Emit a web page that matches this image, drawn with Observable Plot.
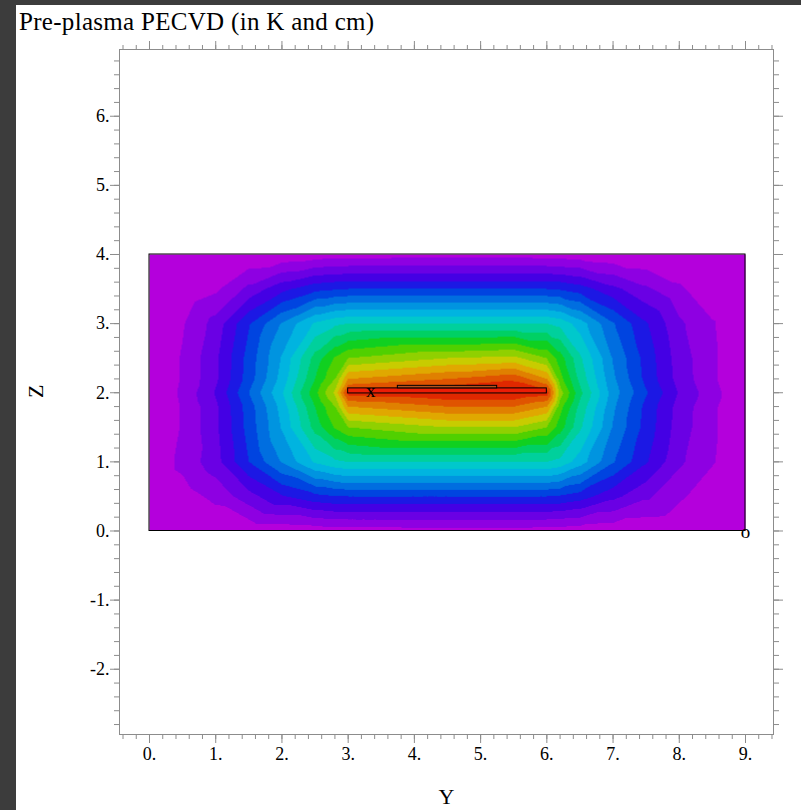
<!DOCTYPE html>
<html><head><meta charset="utf-8">
<script src="https://cdn.jsdelivr.net/npm/d3@7"></script>
<script src="https://cdn.jsdelivr.net/npm/@observablehq/plot@0.6"></script>
<style>
html,body{margin:0;padding:0;background:#3c3c3c;width:801px;height:810px;overflow:hidden}
#panel{position:absolute;left:16px;top:5px;width:785px;height:805px;background:#fff}
#title{position:absolute;left:3px;top:4px;font-family:"Liberation Serif",serif;font-size:25px;line-height:25px;letter-spacing:0.3px;color:#000;white-space:nowrap}
#chart{position:absolute;left:0;top:35px}
</style></head>
<body><div id="panel"><div id="title">Pre-plasma PECVD (in K and cm)</div><div id="chart"></div></div>
<script>
// Sample positions (Y and Z, cm) of the temperature field
const gridY = [0, 0.5, 1, 1.5, 2, 2.5, 2.8, 3, 4.5, 5.5, 6, 6.2, 6.5, 7, 7.5, 8, 8.5, 9];
const gridZ = [0, 0.5, 1, 1.5, 1.8, 2, 2.2, 2.5, 3, 3.5, 4];
// Contour level (band index) read at each sample, one row per gridZ value
const levelRows = [
  [0, 0, 0.1, 0.2, 0.3, 0.4, 0.5, 0.5, 0.6, 0.6, 0.5, 0.5, 0.4, 0.3, 0.2, 0.1, 0, 0],
  [0, 0.5, 1.3, 2.6, 3.9, 4.7, 4.95, 5, 5, 5, 5, 4.9, 4.5, 3.3, 2.2, 1.2, 0.3, 0],
  [0, 1.3, 2.6, 5.0, 7.1, 9.15, 9.8, 10, 10, 10, 10, 9.7, 8.5, 6.1, 4.1, 2.2, 1.1, 0],
  [0, 1.1, 2.8, 5.4, 8.1, 11.4, 13.1, 14.0, 15, 15, 14.0, 12.5, 10.2, 6.9, 4.6, 2.5, 1.2, 0],
  [0, 1.1, 2.8, 5.5, 8.4, 12.0, 14.0, 17, 18, 18, 17, 13.4, 10.7, 7.2, 4.7, 2.6, 1.2, 0],
  [0, 1.2, 3.1, 6.0, 8.9, 12.7, 15.2, 19.5, 20, 20, 19.5, 14.5, 11.3, 7.5, 5.1, 2.9, 1.4, 0],
  [0, 1.1, 2.8, 5.5, 8.4, 12.0, 14.0, 17, 18, 18.8, 17, 13.4, 10.7, 7.2, 4.7, 2.6, 1.2, 0],
  [0, 1.1, 2.8, 5.4, 8.1, 11.4, 13.1, 14.0, 15, 15.3, 14.0, 12.5, 10.2, 6.9, 4.6, 2.5, 1.2, 0],
  [0, 0.9, 2.4, 4.9, 7.1, 9.15, 9.8, 10, 10, 10, 10, 9.7, 8.5, 6.1, 4.1, 2.2, 1.1, 0],
  [0, 0.2, 0.8, 2.3, 3.7, 4.7, 4.9, 5, 5, 5, 5, 4.9, 4.5, 3.3, 2.2, 1.2, 0.2, 0],
  [0, 0, 0, 0.1, 0.2, 0.4, 0.5, 0.5, 0.6, 0.6, 0.5, 0.5, 0.4, 0.2, 0.1, 0, 0, 0]
];
const bandEdges = [1, 2, 3, 4, 5, 6, 7, 8, 9, 10, 11, 12, 13, 14, 15, 16, 17, 18, 19];
const bandColors = ["#b400dc", "#8e00e2", "#6a00e4", "#4400e4", "#1c18e4", "#0044e0", "#006ee0", "#0094e0",
  "#00b4e0", "#00c8cc", "#00d09c", "#00d064", "#10d020", "#50d000", "#90d000", "#c8cc00",
  "#e0a800", "#e08000", "#e05400", "#e02800"];
// Geometry
const domainBox = [{y1: 0, y2: 9, z1: 0, z2: 4}];
const plateY = [3, 6];
const plateZ = [1.99, 2.063];
const padY = [3.75, 5.25];
const padZ = [2.063, 2.10];
const markerLabels = ["x", "o"];
const markerY = [3.34, 9.0];
const markerZ = [2.02, -0.02];
const xMajor = [0, 1, 2, 3, 4, 5, 6, 7, 8, 9];
const zMajor = [-2, -1, 0, 1, 2, 3, 4, 5, 6];

const points = gridZ.flatMap((z, i) => gridY.map((y, j) => ({y, z, v: levelRows[i][j]})));
const plate = [{y1: plateY[0], y2: plateY[1], z1: plateZ[0], z2: plateZ[1]}];
const pad = [{y1: padY[0], y2: padY[1], z1: padZ[0], z2: padZ[1]}];
const markers = markerLabels.map((t, i) => ({t, y: markerY[i], z: markerZ[i]}));
const minorX = d3.range(-4, 95, 2).map(d => d / 10);
const minorZ = d3.range(-28, 69, 2).map(d => d / 10);

const gray = "#8c8c8c";
const fmt = d => `${d}.`;
const chart = Plot.plot({
  width: 785, height: 770,
  marginLeft: 103, marginRight: 28, marginTop: 9, marginBottom: 76,
  style: {fontFamily: '"Liberation Serif", serif', fontSize: "18px", color: "#000", background: "transparent", overflow: "visible"},
  x: {domain: [-0.453, 9.4228]},
  y: {domain: [-2.944, 6.9656]},
  color: {type: "threshold", domain: bandEdges, range: bandColors},
  marks: [
    Plot.raster(points, {x: "y", y: "z", fill: "v", interpolate: "barycentric", x1: 0, x2: 9, y1: 0, y2: 4, pixelSize: 1}),
    Plot.rect(domainBox, {x1: "y1", x2: "y2", y1: "z1", y2: "z2", stroke: "#000", strokeWidth: 1, fill: "none"}),
    Plot.rect(plate, {x1: "y1", x2: "y2", y1: "z1", y2: "z2", fill: "#ec1c06", stroke: "#000", strokeWidth: 1}),
    Plot.rect(pad, {x1: "y1", x2: "y2", y1: "z1", y2: "z2", fill: "#b4501e", stroke: "#000", strokeWidth: 1}),
    Plot.text(markers, {x: "y", y: "z", text: "t", fontSize: 19, fill: "#000"}),
    Plot.frame({stroke: gray}),
    Plot.axisX(minorX, {anchor: "bottom", tickSize: 5, tickFormat: () => "", stroke: gray, label: null}),
    Plot.axisX(minorX, {anchor: "top", tickSize: 5, tickFormat: () => "", stroke: gray, label: null}),
    Plot.axisY(minorZ, {anchor: "left", tickSize: 5, tickFormat: () => "", stroke: gray, label: null}),
    Plot.axisY(minorZ, {anchor: "right", tickSize: 5, tickFormat: () => "", stroke: gray, label: null}),
    Plot.axisX(xMajor, {anchor: "bottom", tickSize: 9, tickPadding: 4, tickFormat: fmt, stroke: gray, label: null, fontSize: 18}),
    Plot.axisX(xMajor, {anchor: "top", tickSize: 9, tickFormat: () => "", stroke: gray, label: null}),
    Plot.axisY(zMajor, {anchor: "left", tickSize: 9, tickPadding: 1, tickFormat: fmt, stroke: gray, label: null, fontSize: 18}),
    Plot.axisY(zMajor, {anchor: "right", tickSize: 9, tickFormat: () => "", stroke: gray, label: null}),
    Plot.text(["Y"], {frameAnchor: "bottom", lineAnchor: "bottom", dy: 69, fontSize: 22, fill: "#000"}),
    Plot.text(["Z"], {frameAnchor: "left", rotate: -90, dx: -84, dy: 6, fontSize: 22, fill: "#000"})
  ]
});
document.getElementById("chart").appendChild(chart);
</script>
</body></html>
